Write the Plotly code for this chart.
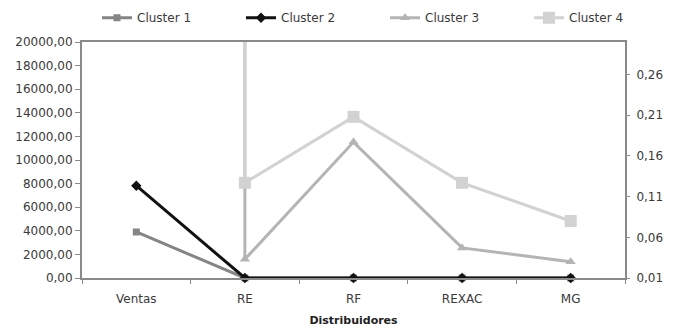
import plotly.graph_objects as go

# Categories on the x axis
categorias = ["Ventas", "RE", "RF", "REXAC", "MG"]

# Clusters 1 and 2: sales on the left axis, ratios are near zero on that scale
cluster_1 = [3900, 0.0, 0.0, 0.0, 0.0]
cluster_2 = [7820, 0.0, 0.0, 0.0, 0.0]

# Clusters 3 and 4 on the right (ratio) axis; their sales run far off scale
cluster_3 = [2900, 0.033, 0.177, 0.047, 0.030]
cluster_4 = [19500, 0.127, 0.208, 0.127, 0.080]

font_family = "DejaVu Sans"
text_color = "#3a3a3a"
axis_color = "#8a8a8a"

fig = go.Figure()

fig.add_trace(go.Scatter(
    x=categorias, y=cluster_1, name="Cluster 1", mode="lines+markers",
    line=dict(color="#858585", width=3),
    marker=dict(symbol="square", size=7, color="#858585"),
    cliponaxis=False, yaxis="y", legendrank=1,
))
fig.add_trace(go.Scatter(
    x=categorias, y=cluster_3, name="Cluster 3", mode="lines+markers",
    line=dict(color="#b4b4b4", width=3),
    marker=dict(symbol="triangle-up", size=9, color="#b4b4b4"),
    yaxis="y2", legendrank=3,
))
fig.add_trace(go.Scatter(
    x=categorias, y=cluster_4, name="Cluster 4", mode="lines+markers",
    line=dict(color="#d2d2d2", width=3),
    marker=dict(symbol="square", size=12, color="#d2d2d2"),
    yaxis="y2", legendrank=4,
))
fig.add_trace(go.Scatter(
    x=categorias, y=cluster_2, name="Cluster 2", mode="lines+markers",
    line=dict(color="#111111", width=3),
    marker=dict(symbol="diamond", size=8, color="#111111"),
    cliponaxis=False, yaxis="y", legendrank=2,
))

fig.update_layout(
    width=680, height=331,
    margin=dict(l=82, r=55, t=42, b=53, autoexpand=False),
    paper_bgcolor="white", plot_bgcolor="white",
    separators=",.",
    font=dict(family=font_family, size=12, color=text_color),
    legend=dict(
        orientation="h", xref="paper", x=1.0884, yref="paper", y=1.164,
        yanchor="top", xanchor="right",
        entrywidth=99, entrywidthmode="pixels",
        font=dict(family=font_family, size=12, color=text_color),
        itemwidth=30, tracegroupgap=0,
    ),
    xaxis=dict(
        type="category", range=[-0.5, 4.5],
        showline=True, linecolor=axis_color, linewidth=2, mirror=True,
        ticks="outside", ticklen=4, tickcolor=axis_color, tickwidth=1,
        tickson="boundaries", showgrid=False, zeroline=False,
        ticklabelstandoff=9,
        title=dict(text="<b>Distribuidores</b>", standoff=11,
                   font=dict(family=font_family, size=11, color="#222222")),
        tickfont=dict(family=font_family, size=12, color=text_color),
    ),
    yaxis=dict(
        range=[0, 20000], tickvals=list(range(0, 20001, 2000)),
        tickformat=".2f",
        showline=True, linecolor=axis_color, linewidth=2,
        ticks="outside", ticklen=5, tickcolor=axis_color,
        showgrid=False, zeroline=False,
        tickfont=dict(family=font_family, size=12, color=text_color),
    ),
    yaxis2=dict(
        range=[0.01, 0.30], overlaying="y", side="right",
        tickvals=[0.01, 0.06, 0.11, 0.16, 0.21, 0.26], tickformat=".2f",
        showline=True, linecolor=axis_color, linewidth=2,
        ticks="outside", ticklen=3, tickcolor=axis_color,
        ticklabelstandoff=4,
        showgrid=False, zeroline=False,
        tickfont=dict(family=font_family, size=12, color=text_color),
    ),
)

fig.write_html("out.html")
